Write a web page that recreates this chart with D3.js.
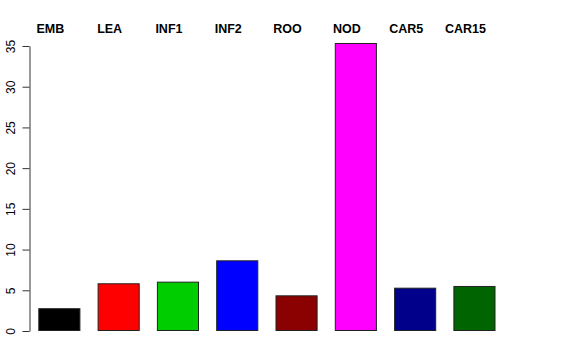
<!DOCTYPE html>
<html>
<head>
<meta charset="utf-8">
<script src="https://cdn.jsdelivr.net/npm/d3@7"></script>
<style>
  body { margin: 0; background: #fff; }
  text { font-family: "Liberation Sans", Arial, sans-serif; }
</style>
</head>
<body>
<div id="chart"></div>
<script>
// data
const categories = ["EMB", "LEA", "INF1", "INF2", "ROO", "NOD", "CAR5", "CAR15"];
const values = [2.8, 5.86, 6.06, 8.68, 4.38, 35.37, 5.32, 5.53];
const barColors = ["#000000", "#ff0000", "#00cd00", "#0000ff", "#8b0000", "#ff00ff", "#00008b", "#006400"];
const yTicks = [0, 5, 10, 15, 20, 25, 30, 35];

const width = 576;
const height = 360;

// x scale for bars
const x = d3.scaleBand()
        .domain(categories)
        .range([38.3, 495.5])
        .paddingInner(0.29)
        .paddingOuter(0)

// y scale
const y = d3.scaleLinear()
        .domain([0, 35])
        .range([331, 46]);

const svg = d3.select("#chart")
      .append("svg")
      .attr("width", width)
      .attr("height", height)

// bars
svg.append("g")
  .selectAll("rect")
  .data(values)
  .join("rect")
      .attr("x", (d, i) => x(categories[i]) + 0.5)
      .attr("y", d => y(d) + 0.5)
      .attr("width", x.bandwidth() - 1)
      .attr("height", d => y(0) - y(d) - 1)
      .attr("fill", (d, i) => barColors[i])
      .attr("stroke", "#222")
      .attr("stroke-width", 1)

// y axis, R style with rotated labels
const yAxis = g => g
        .attr("transform", "translate(29.5, 0)")
        .call(d3.axisLeft(y).tickValues(yTicks).tickSize(7).tickSizeOuter(0))
        .call(g => g.select(".domain").attr("stroke", "#333"))
        .call(g => g.selectAll(".tick line").attr("stroke", "#333"))
        .call(g => g.selectAll(".tick text")
              .attr("font-size", 12)
              .attr("fill", "#000")
              .attr("transform", "rotate(-90)")
              .attr("x", 0)
              .attr("y", -15)
              .attr("dy", 0)
              .attr("text-anchor", "middle"))
svg.append("g").call(yAxis);

// category labels on top, bold
svg.append("g")
  .selectAll("text")
  .data(categories)
  .join("text")
      .attr("x", d => x(d) + x.bandwidth() / 2 - 9)
      .attr("y", 32.5)
      .attr("text-anchor", "middle")
      .attr("font-size", 12.5)
      .attr("font-weight", "bold")
      .text(d => d)
</script>
</body>
</html>
